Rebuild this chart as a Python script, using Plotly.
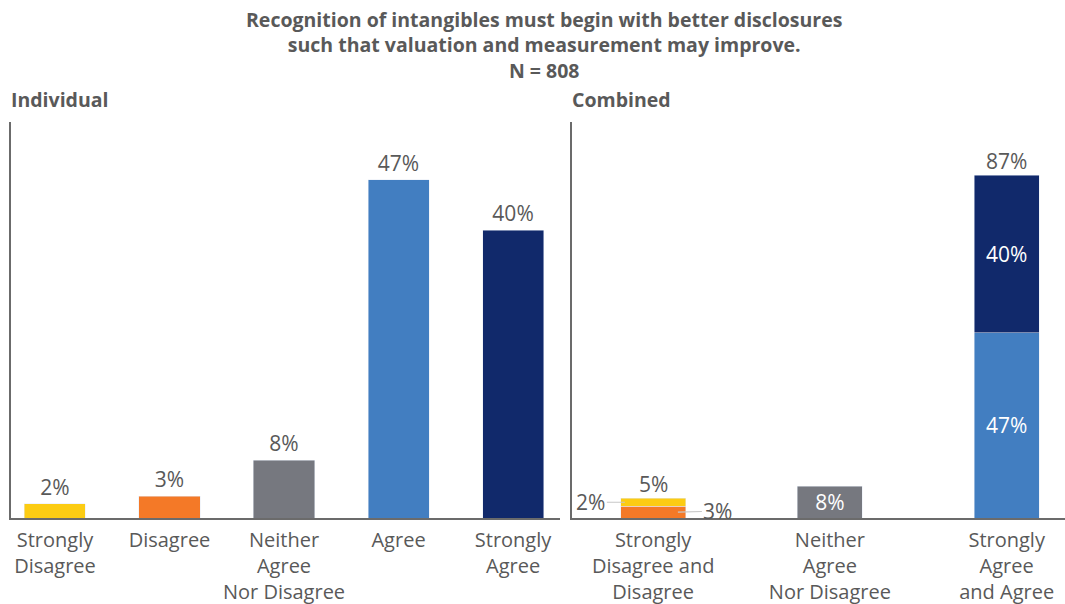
import plotly.graph_objects as go

# ---- data ----
title_lines = ["Recognition of intangibles must begin with better disclosures",
               "such that valuation and measurement may improve.",
               "N = 808"]
ind_categories = ["Strongly<br>Disagree", "Disagree", "Neither<br>Agree<br>Nor Disagree",
                  "Agree", "Strongly<br>Agree"]
ind_values = [2, 3, 8, 47, 40]

comb_categories = ["Strongly<br>Disagree and<br>Disagree", "Neither<br>Agree<br>Nor Disagree",
                   "Strongly<br>Agree<br>and Agree"]
comb_strongly_disagree = 2
comb_disagree = 3
comb_neither = 8
comb_agree = 47
comb_strongly_agree = 40

# ---- style ----
YELLOW = "#FCCC13"
ORANGE = "#F47927"
GRAY = "#76787F"
BLUE = "#427EC1"
NAVY = "#11296B"
TXT = "#595959"
AX = "#6b6b6b"
FONT = "Open Sans"
LBL = 21
TICK = 20

ind_colors = [YELLOW, ORANGE, GRAY, BLUE, NAVY]

fig = go.Figure()

fig.add_trace(go.Bar(
    x=ind_categories, y=ind_values, marker_color=ind_colors, width=0.533,
    text=[f"{v}%" for v in ind_values], textposition="outside",
    textfont=dict(size=LBL, color=TXT, family=FONT), cliponaxis=False,
    xaxis="x", yaxis="y", showlegend=False, hoverinfo="skip"))

c0, c1, c2 = comb_categories
W2 = 0.368
fig.add_trace(go.Bar(x=[c0], y=[comb_disagree], marker_color=ORANGE, width=W2,
                     xaxis="x2", yaxis="y2", showlegend=False, hoverinfo="skip"))
fig.add_trace(go.Bar(x=[c0], y=[comb_strongly_disagree], marker_color=YELLOW, width=W2,
                     xaxis="x2", yaxis="y2", showlegend=False, hoverinfo="skip"))
fig.add_trace(go.Bar(x=[c1], y=[comb_neither], marker_color=GRAY, width=W2,
                     text=[f"{comb_neither}%"], textposition="inside", insidetextanchor="middle",
                     textfont=dict(size=LBL, color="white", family=FONT),
                     xaxis="x2", yaxis="y2", showlegend=False, hoverinfo="skip"))
fig.add_trace(go.Bar(x=[c2], y=[comb_agree], marker_color=BLUE, width=W2,
                     text=[f"{comb_agree}%"], textposition="inside", insidetextanchor="middle",
                     textfont=dict(size=LBL, color="white", family=FONT),
                     xaxis="x2", yaxis="y2", showlegend=False, hoverinfo="skip"))
fig.add_trace(go.Bar(x=[c2], y=[comb_strongly_agree], marker_color=NAVY, width=W2,
                     text=[f"{comb_strongly_agree}%"], textposition="inside", insidetextanchor="middle",
                     textfont=dict(size=LBL, color="white", family=FONT),
                     xaxis="x2", yaxis="y2", showlegend=False, hoverinfo="skip"))

W, H = 1065, 604
y_dom = [1 - 518 / H, 1 - 122 / H]

axis_common = dict(showline=True, linecolor=AX, linewidth=1.5, showgrid=False,
                   zeroline=False, ticks="", fixedrange=True)

fig.update_layout(
    width=W, height=H, barmode="stack",
    margin=dict(l=0, r=0, t=0, b=0),
    paper_bgcolor="white", plot_bgcolor="white",
    font=dict(family=FONT, color=TXT, size=LBL),
    uniformtext=dict(minsize=LBL, mode="show"),
    xaxis=dict(domain=[11 / W, 560 / W], range=[-0.384, 4.41], anchor="y",
               tickfont=dict(size=TICK, color=TXT, family=FONT), ticklabelstandoff=3,
               **axis_common),
    yaxis=dict(domain=y_dom, range=[0, 55], showticklabels=False, anchor="x", **axis_common),
    xaxis2=dict(domain=[572 / W, 1], range=[-0.459, 2.33], anchor="y2",
                tickfont=dict(size=TICK, color=TXT, family=FONT), ticklabelstandoff=3,
                **axis_common),
    yaxis2=dict(domain=y_dom, range=[0, 100.5], showticklabels=False, anchor="x2", **axis_common),
)

# title
fig.add_annotation(text="<br>".join(title_lines), x=544 / W, y=1 - 4 / H, xref="paper", yref="paper",
                   xanchor="center", yanchor="top", showarrow=False, align="center",
                   font=dict(size=19.5, color=TXT, family=FONT, weight="bold"))
# panel titles
fig.add_annotation(text="Individual", x=9 / W, y=1 - 100 / H, xref="paper", yref="paper",
                   xanchor="left", yanchor="middle", showarrow=False,
                   font=dict(size=19.5, color=TXT, family=FONT, weight="bold"))
fig.add_annotation(text="Combined", x=570 / W, y=1 - 100 / H, xref="paper", yref="paper",
                   xanchor="left", yanchor="middle", showarrow=False,
                   font=dict(size=19.5, color=TXT, family=FONT, weight="bold"))

# totals above stacked bars
tot_dis = comb_strongly_disagree + comb_disagree
tot_agr = comb_agree + comb_strongly_agree
for xi, tot in [(0, tot_dis), (2, tot_agr)]:
    fig.add_annotation(text=f"{tot}%", x=xi, y=tot, xref="x2", yref="y2",
                       xanchor="center", yanchor="bottom", yshift=-2, showarrow=False,
                       font=dict(size=LBL, color=TXT, family=FONT))

# leader-line labels for the small stacked segments
fig.add_annotation(text=f"{comb_strongly_disagree}%", x=-0.16,
                   y=comb_disagree + comb_strongly_disagree / 2, xref="x2", yref="y2",
                   ax=-34, ay=0, showarrow=True, arrowhead=0, arrowwidth=1.2,
                   arrowcolor="#c8c8c8", font=dict(size=LBL, color=TXT, family=FONT))
fig.add_annotation(text=f"{comb_disagree}%", x=0.14, y=comb_disagree / 2, xref="x2", yref="y2",
                   ax=40, ay=-1, showarrow=True, arrowhead=0, arrowwidth=1.2,
                   arrowcolor="#c8c8c8", font=dict(size=LBL, color=TXT, family=FONT))

fig.write_html("out.html")
